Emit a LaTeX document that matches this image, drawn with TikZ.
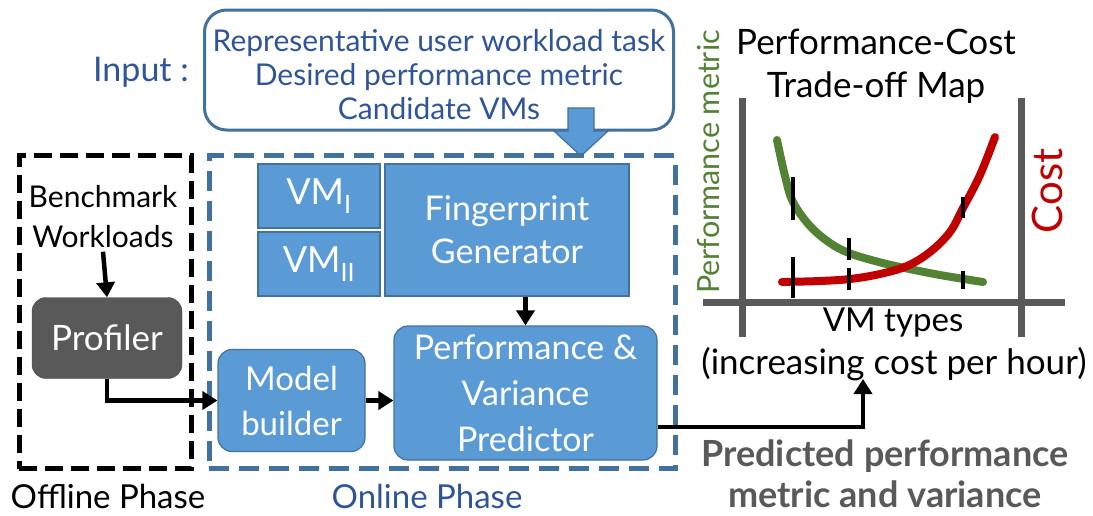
\documentclass[tikz,border=0pt]{standalone}
\usepackage{fontspec}
\setmainfont{Lato}
\usetikzlibrary{arrows.meta}

\definecolor{boxblue}{HTML}{5B9BD5}
\definecolor{boxline}{HTML}{41719C}
\definecolor{textblue}{HTML}{2F5597}
\definecolor{darkgrey}{HTML}{595959}
\definecolor{perfgreen}{HTML}{548235}
\definecolor{costred}{HTML}{C00000}

\newcommand{\fs}[1]{\fontsize{#1}{1.2\dimexpr #1pt\relax}\selectfont}

\tikzset{
  blk/.style={draw=boxline, fill=boxblue, line width=1.2pt, text=white,
    align=center, inner sep=0pt},
  rblk/.style={blk, rounded corners=14pt},
  flow/.style={line width=4.5pt, -{Triangle[length=15pt,width=18pt]}},
  axisline/.style={draw=darkgrey, line width=7pt},
  tick/.style={line width=3.5pt},
  curve/.style={line width=8pt, line cap=round},
}

\begin{document}
\begin{tikzpicture}[x=1pt,y=-1pt]
\useasboundingbox (0,0) rectangle (1093,515);

% ---------- input callout ----------
\node[text=textblue, font=\fs{34}] (inlabel) at (141,72) {Input :};
\node[draw=boxline, line width=3pt, rounded corners=22pt, fill=white,
      minimum width=469pt, minimum height=120pt] (inbox) at (439,70) {};
\node[align=center, text=textblue, font=\fontsize{30}{34}\selectfont] (intext)
  at (439,75) {Representative user workload task\\Desired performance metric\\Candidate VMs};
\draw[fill=boxblue, draw=boxline, line width=1.2pt]
  (568,108) -- (594,108) -- (594,131) -- (608,131) -- (581,156)
  -- (554,131) -- (568,131) -- cycle;

% ---------- phase frames ----------
\node[draw=black, line width=5pt, dash pattern=on 18pt off 8pt,
      minimum width=172pt, minimum height=313pt] (offline) at (105,312) {};
\node[draw=boxline, line width=5pt, dash pattern=on 20pt off 10pt,
      minimum width=466pt, minimum height=313pt] (online) at (442,312) {};
\node[font=\fs{33}] (offlbl) at (108,496) {Offline Phase};
\node[font=\fs{33}, text=textblue] (onlbl) at (427,496) {Online Phase};

% ---------- offline components ----------
\node[align=center, font=\fontsize{30}{40}\selectfont] (bench) at (103,217)
  {Benchmark\\Workloads};
\node[fill=darkgrey, draw=darkgrey!80!black, rounded corners=14pt, text=white,
      minimum width=150pt, minimum height=81pt, font=\fs{35}] (prof) at (107,338)
  {Profiler};

% ---------- online components ----------
\node[blk, minimum width=122pt, minimum height=64pt, font=\fs{36}] (vma) at (319,196)
  {VM\textsubscript{I}};
\node[blk, minimum width=122pt, minimum height=64pt, font=\fs{36}] (vmb) at (319,264)
  {VM\textsubscript{II}};
\node[blk, minimum width=244pt, minimum height=132pt, font=\fontsize{34}{43}\selectfont]
  (fg) at (507,230) {Fingerprint\\Generator};
\node[rblk, minimum width=147pt, minimum height=102pt, font=\fontsize{33}{45}\selectfont]
  (mb) at (291.5,400.5) {Model\\builder};
\node[rblk, minimum width=263pt, minimum height=134pt, font=\fontsize{34}{46}\selectfont]
  (pvp) at (525.5,393) {Performance \&\\Variance\\Predictor};

% ---------- connectors ----------
\draw[flow] (bench.south) -- (prof.north);
\draw[flow] (prof.south) |- (mb.west);
\draw[flow] (mb.east) -- (mb.east -| pvp.west);
\draw[flow] (pvp.north |- fg.south) -- (pvp.north);
\coordinate (maptip) at (863,379);
\draw[flow] ([yshift=-34pt]pvp.east) -| (maptip);

% ---------- performance-cost map ----------
\node[align=center, font=\fontsize{35}{43}\selectfont] (maptitle) at (876,66)
  {Performance-Cost\\Trade-off Map};
\draw[axisline] (742,98) -- (742,337);
\draw[axisline] (1021,98) -- (1021,337);
\draw[axisline] (703,302) -- (1065,302);
\node[rotate=90, text=perfgreen, font=\fs{30.5}] (ylbl) at (708,162) {Performance metric};
\node[rotate=90, text=costred, font=\fs{42}] (clbl) at (1047,191) {Cost};
\node[font=\fs{33}] (xlbl) at (893,323) {VM types};
\node[font=\fs{35}] (xlbl2) at (894,364) {(increasing cost per hour)};

\draw[curve, perfgreen] plot[smooth, tension=0.6] coordinates
  {(777,140) (785,176) (793,202) (810,226) (830,243) (849,253) (875,261)
   (900,267) (940,275) (983,282)};
\draw[curve, costred] plot[smooth, tension=0.6] coordinates
  {(782,282) (820,281) (850,279) (880,274) (907,266) (930,252) (950,232)
   (963,208) (980,175) (995,137)};

\draw[tick] (793,177) -- (793,220);
\draw[tick] (793,257) -- (793,298);
\draw[tick] (849,238) -- (849,260);
\draw[tick] (849,268) -- (849,290);
\draw[tick] (963,197) -- (963,218);
\draw[tick] (963,271) -- (963,289);

% ---------- output label ----------
\node[align=center, text=darkgrey, font=\bfseries\fontsize{36}{41}\selectfont]
  (outlbl) at (885,474) {Predicted performance\\metric and variance};
\end{tikzpicture}
\end{document}
